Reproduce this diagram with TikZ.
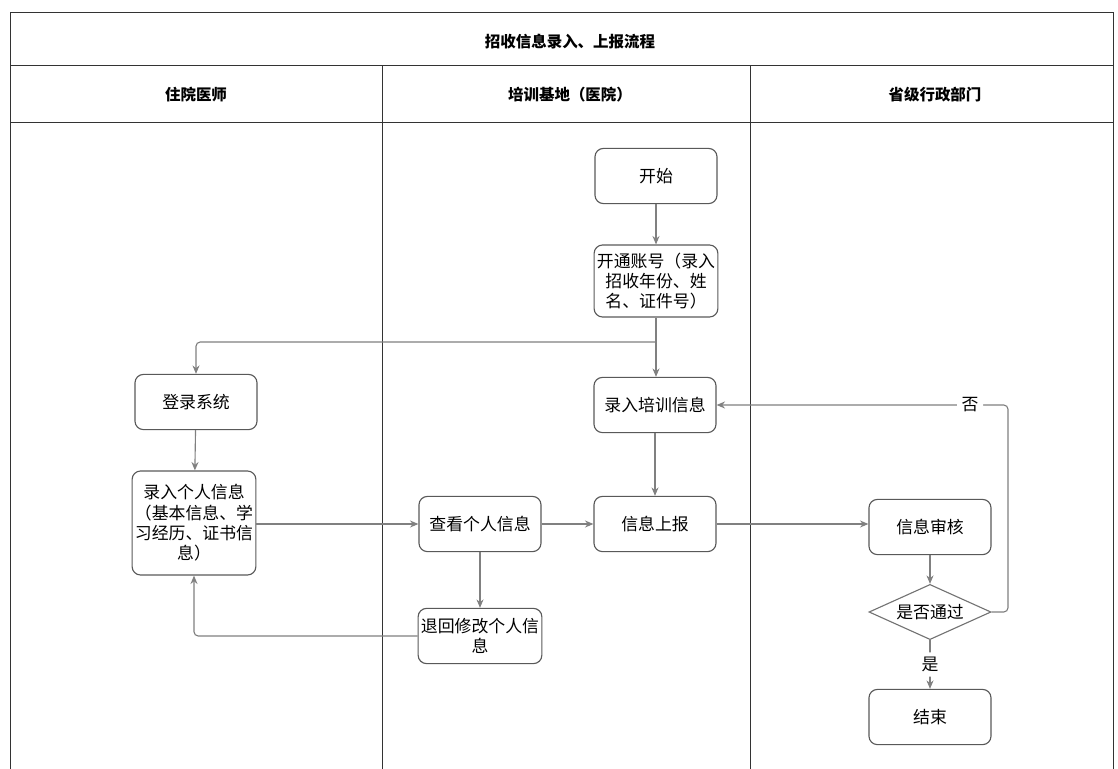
\documentclass[tikz,border=0pt]{standalone}
\usepackage{fontspec}
\setmainfont{Noto Sans CJK SC}
\usetikzlibrary{arrows.meta,shapes.geometric,positioning,calc}

\begin{document}
\begin{tikzpicture}[x=0.025cm,y=-0.025cm,
    box/.style={rectangle,rounded corners=6pt,draw=black!65,line width=0.8pt,
        minimum width=3.05cm,minimum height=1.38cm,align=center,inner xsep=2pt,
        font=\fontsize{12}{14.5}\selectfont},
    dec/.style={diamond,aspect=2.2,draw=black!55,line width=0.8pt,inner sep=1pt,
        minimum width=3.05cm,minimum height=1.38cm,font=\fontsize{12}{14.5}\selectfont},
    arr/.style={draw=black!50,line width=0.8pt,-{Stealth[length=6pt,width=5pt]},rounded corners=3pt},
    lane/.style={draw=black!80,line width=0.7pt},
    head/.style={font=\fontsize{11}{13}\selectfont\bfseries},
    lbl/.style={fill=white,font=\fontsize{12}{14}\selectfont}]
    \useasboundingbox (0,0) rectangle (1118,769);
    % lanes
    \draw[lane] (10,769) -- (10,12) -- (1113,12) -- (1113,769);
    \draw[lane] (10,65) -- (1113,65);
    \draw[lane] (10,122) -- (1113,122);
    \draw[lane] (382,65) -- (382,769);
    \draw[lane] (750,65) -- (750,769);
    \node[head](title) at (570,42){招收信息录入、上报流程};
    \node[head](h1) at (196,95){住院医师};
    \node[head](h2) at (570,95){培训基地（医院）};
    \node[head](h3) at (935,95){省级行政部门};
    % nodes
    \node[box](start) at (656,176){开始};
    \node[box,minimum height=1.8cm](kaitong) at (656,281){开通账号（录入\\招收年份、姓\\名、证件号）};
    \node[box](denglu) at (196,402){登录系统};
    \node[box](peixun) at (655,405){录入培训信息};
    \node[box,minimum height=2.6cm](geren) at (194,523){录入个人信息\\（基本信息、学\\习经历、证书信\\息）};
    \node[box](chakan) at (480,524){查看个人信息};
    \node[box](shangbao) at (655,524){信息上报};
    \node[box](shenhe) at (930,527){信息审核};
    \node[dec](tongguo) at (930,612){是否通过};
    \node[box](tuihui) at (480,636){退回修改个人信\\息};
    \node[box](jieshu) at (930,717){结束};
    \coordinate(fork) at (656,342);
    % connectors
    \draw[arr](start)--(kaitong);
    \draw[arr](kaitong.south)--(kaitong.south|-peixun.north);
    \draw[arr](fork)-|(denglu.north);
    \draw[arr](denglu)--(geren);
    \draw[arr](geren.east|-chakan)--(chakan);
    \draw[arr](chakan)--(shangbao);
    \draw[arr](peixun)--(shangbao);
    \draw[arr](shangbao)--(shangbao-|shenhe.west);
    \draw[arr](shenhe)--(tongguo);
    \draw[arr](chakan)--(tuihui);
    \draw[arr](tuihui.west)-|(geren.south);
    \draw[arr](tongguo.east)-|(1008,405)--node[pos=0.13,lbl]{否}(peixun.east);
    \draw[arr](tongguo)--node[lbl]{是}(jieshu);
\end{tikzpicture}
\end{document}
